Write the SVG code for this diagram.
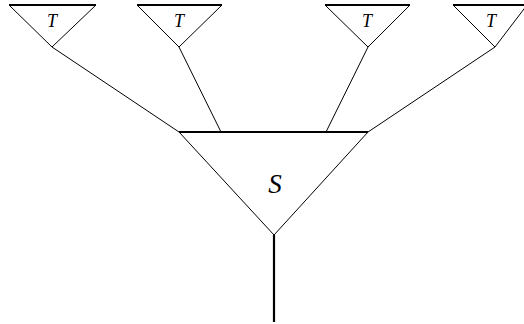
<svg xmlns="http://www.w3.org/2000/svg" width="524" height="324" viewBox="0 0 524 324">
<style>
.bar{stroke:#000;stroke-width:2.2;fill:none}
.side{stroke:#000;stroke-width:1;fill:none}
.lbl{font-family:"Liberation Serif",serif;font-style:italic;fill:#000;text-anchor:middle}
</style>
<rect width="524" height="324" fill="#fff"/>
<g id="connectors">
<line class="side" x1="52" y1="47" x2="179" y2="132"/>
<line class="side" x1="179" y1="47" x2="221" y2="132"/>
<line class="side" x1="368" y1="47" x2="326" y2="132"/>
<line class="side" x1="495" y1="47" x2="368" y2="132"/>
<line class="bar" x1="274" y1="235" x2="274" y2="322"/>
</g>
<g id="T1">
<polyline class="side" points="9,5 52,47 96,5"/>
<line class="bar" x1="9" y1="5" x2="96" y2="5"/>
<text class="lbl" x="52" y="27" font-size="18">T</text>
</g>
<g id="T2">
<polyline class="side" points="137,5 179,47 222,5"/>
<line class="bar" x1="137" y1="5" x2="222" y2="5"/>
<text class="lbl" x="179" y="27" font-size="18">T</text>
</g>
<g id="T3">
<polyline class="side" points="325,5 368,47 410,5"/>
<line class="bar" x1="325" y1="5" x2="410" y2="5"/>
<text class="lbl" x="367" y="27" font-size="18">T</text>
</g>
<g id="T4">
<polyline class="side" points="453,5 495,47 527,5"/>
<line class="bar" x1="453" y1="5" x2="527" y2="5"/>
<text class="lbl" x="491" y="27" font-size="18">T</text>
</g>
<g id="S">
<polyline class="side" points="179,132 274,235 368,132"/>
<line class="bar" x1="179" y1="132" x2="368" y2="132" stroke-width="2.6"/>
<text class="lbl" x="275" y="193" font-size="27">S</text>
</g>
</svg>
